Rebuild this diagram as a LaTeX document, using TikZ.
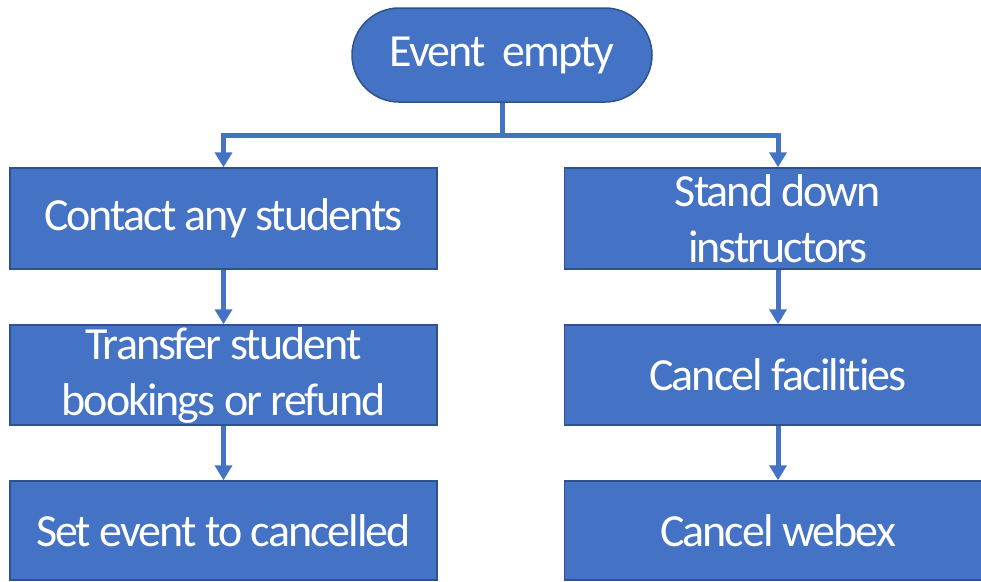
\documentclass[tikz,border=0pt]{standalone}
\usepackage{fontspec}
\setmainfont{Carlito}[LetterSpace=-4.3, Ligatures={NoCommon}]
\usetikzlibrary{arrows.meta,shapes.misc}
\definecolor{boxfill}{HTML}{4472C4}
\definecolor{boxedge}{HTML}{2F528F}
\tikzset{
  stepbox/.style={draw=boxedge, line width=1.5pt, fill=boxfill, text=white,
    minimum width=427pt, minimum height=101pt, align=center, inner sep=0pt,
    font=\fontsize{46}{56}\selectfont},
  startpill/.style={stepbox, rounded rectangle, minimum width=300pt, minimum height=94pt},
  flow/.style={draw=boxfill, line width=5pt,
    -{Triangle[length=15pt,width=17pt]}},
  trunk/.style={draw=boxfill, line width=5pt}
}
\begin{document}
\begin{tikzpicture}[x=1pt,y=-1pt]
\useasboundingbox (0,0) rectangle (981,581);
\node[startpill] (start) at (502,55) {Event\ \ empty};
% left column
\node[stepbox] (contact) at (223.5,218.5) {Contact any students};
\node[stepbox, minimum height=100pt] (transfer) at (223.5,375) {Transfer student\\bookings or refund};
\node[stepbox, minimum height=99pt] (setcancel) at (223.5,530.5) {Set event to cancelled};
% right column (runs past the right edge of the page)
\node[stepbox] (stand) at (778,218.5) {Stand down\\instructors};
\node[stepbox, minimum height=100pt] (facilities) at (778,375) {Cancel facilities};
\node[stepbox, minimum height=99pt] (webex) at (778,530.5) {Cancel webex};
% branching from the start
\coordinate (split) at (502,135);
\draw[trunk] (start.south) -- (split);
\draw[flow] (split) -| (contact.north);
\draw[flow] (split) -| (stand.north);
% chains
\draw[flow] (contact) -- (transfer);
\draw[flow] (transfer) -- (setcancel);
\draw[flow] (stand) -- (facilities);
\draw[flow] (facilities) -- (webex);
\end{tikzpicture}
\end{document}
